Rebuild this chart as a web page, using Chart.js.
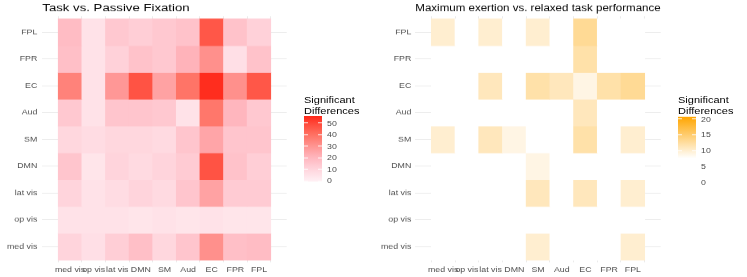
<!DOCTYPE html>
<html>
<head>
<meta charset="utf-8">
<script src="https://cdn.jsdelivr.net/npm/chart.js@4.4.1/dist/chart.umd.min.js"></script>
<style>
  html, body { margin: 0; padding: 0; background: #fff; overflow: hidden; }
  #stage { position: absolute; left: 0; top: 0; width: 747px; height: 346px;
           transform: scaleY(0.8); transform-origin: 0 0;
           font-family: "Liberation Sans", Arial, sans-serif; }
  .box { position: absolute; top: 0; width: 300px; height: 346px; }
  .lg-title { position: absolute; font-size: 11px; line-height: 12.5px; color: #000; white-space: nowrap; }
  .bar { position: absolute; width: 18px; }
  .tick { position: absolute; width: 3.6px; height: 1px; background: #fff; }
  .lab { position: absolute; font-size: 8.8px; line-height: 10px; color: #4d4d4d; }
</style>
</head>
<body>
<div id="stage">
  <div class="box" style="left:0"><canvas id="left" width="300" height="346"></canvas></div>
  <div class="box" style="left:370px"><canvas id="right" width="300" height="346"></canvas></div>
</div>
<script>
// networks, same order on both axes (x left->right, y bottom->top)
const networks = ['med vis', 'op vis', 'lat vis', 'DMN', 'SM', 'Aud', 'EC', 'FPR', 'FPL'];

// rows listed top -> bottom as in the picture: FPL, FPR, EC, Aud, SM, DMN, lat vis, op vis, med vis
const taskVsPassive = [
  [18, 5, 14, 12, 14, 16, 46, 16, 11],
  [17, 5, 11, 16, 14, 21, 31,  6, 16],
  [35, 5, 29, 47, 26, 39, 55, 31, 46],
  [14, 5, 15, 15, 14,  5, 38, 20, 14],
  [ 9, 7,  9,  9,  8, 15, 25, 15, 15],
  [15, 4, 10,  8, 10, 13, 47, 16, 12],
  [10, 5,  7, 10,  8, 15, 26, 13, 13],
  [ 5, 5,  5,  4,  5,  4,  5,  4,  4],
  [10, 6, 12, 17,  9, 15, 31, 17, 18]
];

const exertionVsRelaxed = [
  [10, 0, 10, 0, 10,  0, 13,  0,  0],
  [ 0, 0,  0, 0,  0,  0, 12,  0,  0],
  [ 0, 0, 11, 0, 12, 11,  9, 12, 13],
  [ 0, 0,  0, 0,  0,  0, 11,  0,  0],
  [10, 0, 11, 9,  0,  0, 12,  0, 10],
  [ 0, 0,  0, 0,  9,  0,  0,  0,  0],
  [ 0, 0,  0, 0, 11,  0, 11,  0, 10],
  [ 0, 0,  0, 0,  0,  0,  0,  0,  0],
  [ 0, 0,  0, 0, 10,  0,  0,  0, 10]
];

const leftBreaks = [0, 10, 20, 30, 40, 50];
const rightBreaks = [0, 5, 10, 15, 20];

const redStops = [[0, [255, 240, 244]], [10, [255, 212, 220]], [20, [255, 182, 190]],
                  [30, [255, 148, 145]], [40, [255, 112, 98]], [50, [255, 70, 55]], [56, [255, 40, 25]]];
const orangeStops = [[7.6, [255, 255, 255]], [20.6, [255, 165, 0]]];

function ramp(stops, v) {
  if (v <= stops[0][0]) return 'rgb(' + stops[0][1].join(',') + ')';
  for (let i = 1; i < stops.length; i++) {
    const [v1, c1] = stops[i];
    const [v0, c0] = stops[i - 1];
    if (v <= v1) {
      const t = (v - v0) / (v1 - v0);
      return 'rgb(' + c0.map((c, k) => Math.round(c + (c1[k] - c) * t)).join(',') + ')';
    }
  }
  return 'rgb(' + stops[stops.length - 1][1].join(',') + ')';
}
const redColor = v => ramp(redStops, v);
const orangeColor = v => v <= 0 ? '#ffffff' : ramp(orangeStops, v);

Chart.defaults.font.family = '"Liberation Sans", Arial, sans-serif';

function heatmap(id, title, matrix, colorFn, yWidth, yPad, padRight) {
  const n = networks.length;
  const datasets = matrix.map((row, i) => {
    const yc = n - 1 - i;
    return {
      data: row.map((v, j) => ({ x: j, y: [yc - 0.5, yc + 0.5] })),
      backgroundColor: row.map(colorFn),
      borderWidth: 0,
      grouped: false,
      barPercentage: 1,
      categoryPercentage: 1
    };
  });
  const axis = (afterFit, pad) => ({
    type: 'linear', min: -0.6, max: n - 1 + 0.6,
    afterBuildTicks: s => { s.ticks = networks.map((_, k) => ({ value: k })); },
    afterFit,
    grid: { color: '#ebebeb', lineWidth: 1, drawTicks: false },
    border: { display: false },
    ticks: { callback: v => networks[v], autoSkip: false, maxRotation: 0,
             color: '#4d4d4d', font: { size: 8.8 }, padding: pad }
  });
  new Chart(document.getElementById(id), {
    type: 'bar',
    data: { datasets },
    options: {
      responsive: false, animation: false,
      layout: { padding: { left: 0, right: padRight, top: 0, bottom: 0 } },
      scales: {
        x: axis(s => { s.height = 17.6; }, 4),
        y: axis(s => { s.width = yWidth; }, yPad)
      },
      plugins: {
        legend: { display: false },
        tooltip: { enabled: false },
        title: { display: true, text: title, align: 'start', fullSize: false, color: '#000',
                 font: { size: 13.2, weight: 'normal', lineHeight: 1.2 },
                 padding: { top: 2.5, bottom: 2 } }
      }
    }
  });
}

heatmap('left', 'Task vs. Passive Fixation', taskVsPassive, redColor, 42.3, 5, 13.3);
heatmap('right', 'Maximum exertion vs. relaxed task performance', exertionVsRelaxed, orangeColor, 45.3, 4, 9.3);

// colour bar legends
function colorbar(left, colorFn, vTop, vBottom, yOf, breaks) {
  const stage = document.getElementById('stage');
  const t = document.createElement('div');
  t.className = 'lg-title';
  t.style.left = left + 'px';
  t.style.top = '119px';
  t.innerHTML = 'Significant<br>Differences';
  stage.appendChild(t);

  const top = yOf(vTop), bottom = yOf(vBottom);
  const stops = [];
  for (let k = 0; k <= 20; k++) {
    const v = vBottom + (vTop - vBottom) * k / 20;
    stops.push(colorFn(v) + ' ' + (k * 5) + '%');
  }
  const bar = document.createElement('div');
  bar.className = 'bar';
  bar.style.left = left + 'px';
  bar.style.top = top + 'px';
  bar.style.height = (bottom - top) + 'px';
  bar.style.background = 'linear-gradient(to top,' + stops.join(',') + ')';
  stage.appendChild(bar);

  breaks.forEach(b => {
    const y = yOf(b);
    if (b >= vBottom && b <= vTop) {
      [left, left + 18 - 3.6].forEach(x => {
        const tk = document.createElement('div');
        tk.className = 'tick';
        tk.style.left = x + 'px';
        tk.style.top = (y - 0.5) + 'px';
        stage.appendChild(tk);
      });
    }
    const l = document.createElement('div');
    l.className = 'lab';
    l.style.left = (left + 23) + 'px';
    l.style.top = (y - 5) + 'px';
    l.textContent = b;
    stage.appendChild(l);
  });
}

colorbar(304, redColor, 56, -0.86, v => 226.25 - 1.45 * v, leftBreaks);
colorbar(678, v => ramp(orangeStops, v), 20.6, 7.6, v => 227.5 - 3.9375 * v, rightBreaks);
</script>
</body>
</html>
